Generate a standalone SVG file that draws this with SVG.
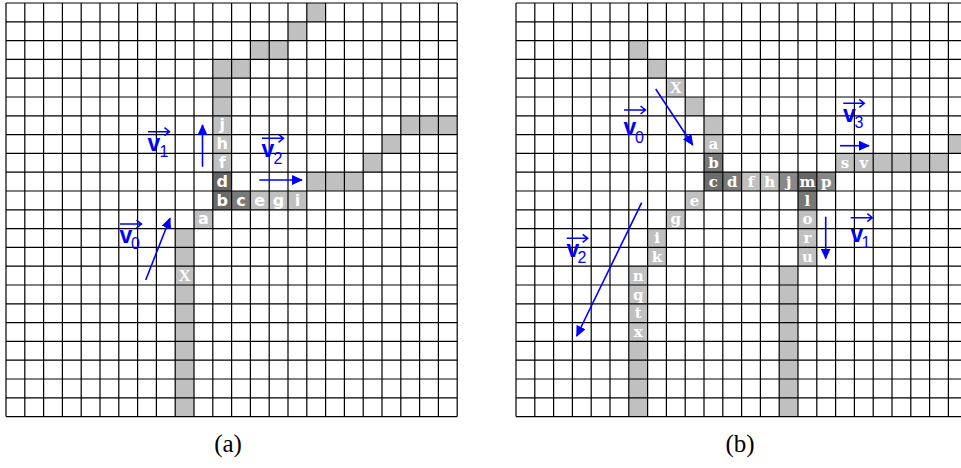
<svg xmlns="http://www.w3.org/2000/svg" width="961" height="468" viewBox="0 0 961 468">
<style>
.bg{fill:#ffffff}
.cl{fill:#c0c0c0}
.grid{stroke:#000;stroke-width:1.2;fill:none}
.ta{font-family:"DejaVu Sans","Liberation Sans",sans-serif;font-weight:bold;font-size:16px;fill:#ffffff;text-anchor:middle}
.tb{font-family:"DejaVu Serif","Liberation Serif",serif;font-weight:bold;font-size:15px;fill:#ffffff;text-anchor:middle}
.tx{font-family:"Liberation Serif","Times New Roman",serif;font-weight:bold;font-size:17px;fill:#ffffff;text-anchor:middle}
.arr{stroke:#0000ff;stroke-width:1.6;fill:none}
.ov{stroke:#0000ff;stroke-width:1.5;fill:none}
.vl{font-family:"Liberation Sans",Arial,sans-serif;font-weight:bold;font-size:23px;fill:#0000ff}
.vs{font-family:"Liberation Sans",Arial,sans-serif;font-size:16px;fill:#0000ff}
.cap{font-family:"Liberation Serif","Times New Roman",serif;font-size:25px;fill:#000;text-anchor:middle}
</style>
<defs>
<marker id="ah" markerUnits="userSpaceOnUse" markerWidth="11" markerHeight="10" refX="10" refY="5" orient="auto">
<path d="M0,0 L11,5 L0,10 z" fill="#0000ff"/>
</marker>
</defs>
<rect class="bg" x="0" y="0" width="961" height="468"/>

<g id="panel-a">
<g id="cells-a">
<rect class="cl" x="212.8" y="59.4" width="37.6" height="18.8"/>
<rect class="cl" x="250.4" y="40.6" width="37.6" height="18.8"/>
<rect class="cl" x="288" y="21.8" width="18.8" height="18.8"/>
<rect class="cl" x="306.8" y="3" width="18.8" height="18.8"/>
<rect class="cl" x="212.8" y="78.2" width="18.8" height="94"/>
<rect fill="#666666" x="212.8" y="172.2" width="18.8" height="18.8"/>
<rect fill="#6a6a6a" x="212.8" y="191" width="18.8" height="18.8"/>
<rect fill="#7a7a7a" x="231.6" y="191" width="18.8" height="18.8"/>
<rect class="cl" x="250.4" y="191" width="56.4" height="18.8"/>
<rect class="cl" x="194" y="209.8" width="18.8" height="18.8"/>
<rect class="cl" x="175.2" y="228.6" width="18.8" height="188"/>
<rect class="cl" x="306.8" y="172.2" width="56.4" height="18.8"/>
<rect class="cl" x="363.2" y="153.4" width="18.8" height="18.8"/>
<rect class="cl" x="382" y="134.6" width="18.8" height="18.8"/>
<rect class="cl" x="400.8" y="115.8" width="56.4" height="18.8"/>
</g>
<path class="grid" d="M6,3V416.6M24.8,3V416.6M43.6,3V416.6M62.4,3V416.6M81.2,3V416.6M100,3V416.6M118.8,3V416.6M137.6,3V416.6M156.4,3V416.6M175.2,3V416.6M194,3V416.6M212.8,3V416.6M231.6,3V416.6M250.4,3V416.6M269.2,3V416.6M288,3V416.6M306.8,3V416.6M325.6,3V416.6M344.4,3V416.6M363.2,3V416.6M382,3V416.6M400.8,3V416.6M419.6,3V416.6M438.4,3V416.6M457.2,3V416.6M6,3H457.2M6,21.8H457.2M6,40.6H457.2M6,59.4H457.2M6,78.2H457.2M6,97H457.2M6,115.8H457.2M6,134.6H457.2M6,153.4H457.2M6,172.2H457.2M6,191H457.2M6,209.8H457.2M6,228.6H457.2M6,247.4H457.2M6,266.2H457.2M6,285H457.2M6,303.8H457.2M6,322.6H457.2M6,341.4H457.2M6,360.2H457.2M6,379H457.2M6,397.8H457.2M6,416.6H457.2"/>
<g id="letters-a">
<text class="ta" x="222.2" y="130.3">j</text>
<text class="ta" x="222.2" y="149.1">h</text>
<text class="ta" x="222.2" y="167.9">f</text>
<text class="ta" x="222.2" y="186.7">d</text>
<text class="ta" x="222.2" y="205.5">b</text>
<text class="ta" x="241" y="205.5">c</text>
<text class="ta" x="259.8" y="205.5">e</text>
<text class="ta" x="278.6" y="205.5">g</text>
<text class="ta" x="297.4" y="205.5">i</text>
<text class="ta" x="203.4" y="224.3">a</text>
<text class="tx" x="184.6" y="281">X</text>
</g>
</g>

<g id="panel-b">
<g id="cells-b">
<rect class="cl" x="628.8" y="40.6" width="18.8" height="18.8"/>
<rect class="cl" x="647.6" y="59.4" width="18.8" height="18.8"/>
<rect class="cl" x="666.4" y="78.2" width="18.8" height="18.8"/>
<rect class="cl" x="685.2" y="97" width="18.8" height="18.8"/>
<rect class="cl" x="704" y="115.8" width="18.8" height="37.6"/>
<rect fill="#777777" x="704" y="153.4" width="18.8" height="18.8"/>
<rect fill="#6c6c6c" x="704" y="172.2" width="18.8" height="18.8"/>
<rect fill="#7a7a7a" x="722.8" y="172.2" width="18.8" height="18.8"/>
<rect class="cl" x="741.6" y="172.2" width="37.6" height="18.8"/>
<rect fill="#888888" x="779.2" y="172.2" width="18.8" height="18.8"/>
<rect fill="#666666" x="798" y="172.2" width="18.8" height="18.8"/>
<rect fill="#888888" x="816.8" y="172.2" width="18.8" height="18.8"/>
<rect fill="#777777" x="798" y="191" width="18.8" height="18.8"/>
<rect class="cl" x="798" y="209.8" width="18.8" height="56.4"/>
<rect class="cl" x="779.2" y="266.2" width="18.8" height="150.4"/>
<rect class="cl" x="685.2" y="191" width="18.8" height="18.8"/>
<rect class="cl" x="666.4" y="209.8" width="18.8" height="18.8"/>
<rect class="cl" x="647.6" y="228.6" width="18.8" height="37.6"/>
<rect class="cl" x="628.8" y="266.2" width="18.8" height="150.4"/>
<rect class="cl" x="835.6" y="153.4" width="112.8" height="18.8"/>
<rect class="cl" x="948.4" y="134.6" width="18.8" height="18.8"/>
</g>
<path class="grid" d="M516,3V416.6M534.8,3V416.6M553.6,3V416.6M572.4,3V416.6M591.2,3V416.6M610,3V416.6M628.8,3V416.6M647.6,3V416.6M666.4,3V416.6M685.2,3V416.6M704,3V416.6M722.8,3V416.6M741.6,3V416.6M760.4,3V416.6M779.2,3V416.6M798,3V416.6M816.8,3V416.6M835.6,3V416.6M854.4,3V416.6M873.2,3V416.6M892,3V416.6M910.8,3V416.6M929.6,3V416.6M948.4,3V416.6M516,3H961M516,21.8H961M516,40.6H961M516,59.4H961M516,78.2H961M516,97H961M516,115.8H961M516,134.6H961M516,153.4H961M516,172.2H961M516,191H961M516,209.8H961M516,228.6H961M516,247.4H961M516,266.2H961M516,285H961M516,303.8H961M516,322.6H961M516,341.4H961M516,360.2H961M516,379H961M516,397.8H961M516,416.6H961"/>
<g id="letters-b">
<text class="tx" x="675.8" y="93">X</text>
<text class="tb" x="713.4" y="149.1">a</text>
<text class="tb" x="713.4" y="167.9">b</text>
<text class="tb" x="713.4" y="186.7">c</text>
<text class="tb" x="732.2" y="186.7">d</text>
<text class="tb" x="751" y="186.7">f</text>
<text class="tb" x="769.8" y="186.7">h</text>
<text class="tb" x="788.6" y="186.7">j</text>
<text class="tb" x="807.4" y="186.7">m</text>
<text class="tb" x="826.2" y="186.7">p</text>
<text class="tb" x="807.4" y="205.5">l</text>
<text class="tb" x="807.4" y="224.3">o</text>
<text class="tb" x="807.4" y="243.1">r</text>
<text class="tb" x="807.4" y="261.9">u</text>
<text class="tb" x="694.6" y="205.5">e</text>
<text class="tb" x="675.8" y="224.3">g</text>
<text class="tb" x="657" y="243.1">i</text>
<text class="tb" x="657" y="261.9">k</text>
<text class="tb" x="638.2" y="280.7">n</text>
<text class="tb" x="638.2" y="299.5">q</text>
<text class="tb" x="638.2" y="318.3">t</text>
<text class="tb" x="638.2" y="337.1">x</text>
<text class="tb" x="845" y="167.9">s</text>
<text class="tb" x="863.8" y="167.9">v</text>
</g>
</g>

<g id="connectors">
<line class="arr" x1="145.7" y1="280" x2="170" y2="218.3" marker-end="url(#ah)"/>
<line class="arr" x1="202.5" y1="166.7" x2="202.5" y2="125" marker-end="url(#ah)"/>
<line class="arr" x1="259.3" y1="180" x2="302" y2="180" marker-end="url(#ah)"/>
<line class="arr" x1="655.7" y1="89" x2="692.7" y2="145" marker-end="url(#ah)"/>
<line class="arr" x1="825.7" y1="216.7" x2="825.7" y2="258.5" marker-end="url(#ah)"/>
<line class="arr" x1="641.7" y1="202.7" x2="576.7" y2="336" marker-end="url(#ah)"/>
<line class="arr" x1="840" y1="145.7" x2="869" y2="145.7" marker-end="url(#ah)"/>
</g>

<g id="labels">
<path class="ov" d="M120,224H141.5M136.5,220L141.5,224L136.5,228"/>
<text class="vl" x="119.5" y="243">v</text><text class="vs" x="131" y="249">0</text>
<path class="ov" d="M148,131.7H169.5M164.5,127.7L169.5,131.7L164.5,135.7"/>
<text class="vl" x="147.5" y="151">v</text><text class="vs" x="159.5" y="157">1</text>
<path class="ov" d="M262,138.3H283.5M278.5,134.3L283.5,138.3L278.5,142.3"/>
<text class="vl" x="261.5" y="157">v</text><text class="vs" x="273.5" y="164">2</text>
<path class="ov" d="M624,110H645.5M640.5,106L645.5,110L640.5,114"/>
<text class="vl" x="623.5" y="135">v</text><text class="vs" x="635" y="143">0</text>
<path class="ov" d="M843.3,103.3H864.3M859.3,99.3L864.3,103.3L859.3,107.3"/>
<text class="vl" x="843" y="122">v</text><text class="vs" x="854.5" y="128">3</text>
<path class="ov" d="M850.7,217.7H872.3M867.3,213.7L872.3,217.7L867.3,221.7"/>
<text class="vl" x="850.5" y="242">v</text><text class="vs" x="861.5" y="248">1</text>
<path class="ov" d="M566.7,238.3H587.7M582.7,234.3L587.7,238.3L582.7,242.3"/>
<text class="vl" x="566.5" y="257">v</text><text class="vs" x="577.5" y="262.5">2</text>
</g>

<g id="captions">
<text class="cap" x="228" y="452">(a)</text>
<text class="cap" x="740" y="452">(b)</text>
</g>
</svg>
